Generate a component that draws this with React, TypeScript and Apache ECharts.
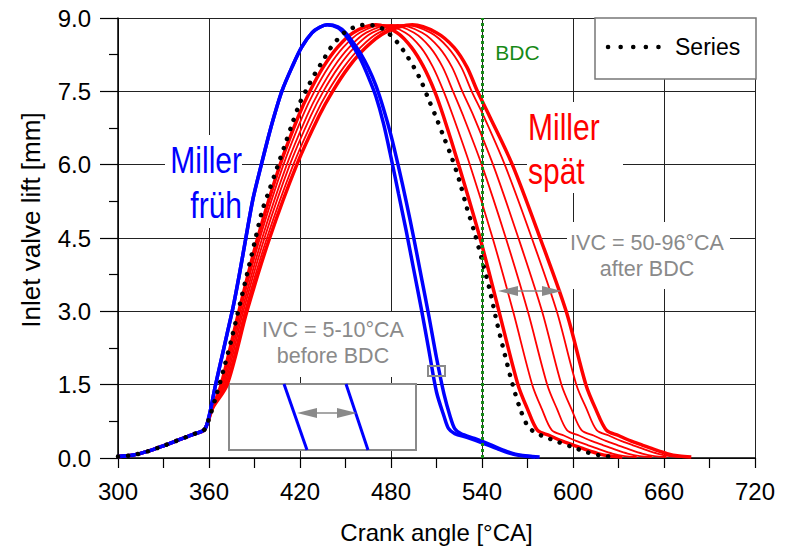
import React, { useEffect, useRef } from "react";
import * as echarts from "echarts";

// ---------- data ----------
const xMin = 300;
const xMax = 720;
const xStep = 60;
const yMin = 0;
const yMax = 9;
const yStep = 1.5;
const bdcAngle = 540;

// common opening ramp of all cam profiles
const openingRamp: [number, number][] = [
  [300, 0.03], [310, 0.06], [320, 0.14], [330, 0.25], [340, 0.37], [350, 0.49], [357, 0.58],
];

// Miller früh (early IVC), two profiles
const blueRise: [number, number][] = [
  [360, 0.85], [364, 1.45], [368, 2.0], [372, 2.55], [376, 3.1], [380, 3.75], [384.3, 4.5],
  [389, 5.3], [394.5, 6.0], [399, 6.55], [403, 7.0], [408, 7.5], [414.8, 8.0], [421, 8.4],
  [428, 8.7], [433, 8.81], [438, 8.86],
];
const blueEarlyA: [number, number][] = [
  ...openingRamp, ...blueRise,
  [445, 8.8], [450, 8.65], [455, 8.42], [460, 8.15], [465, 7.8], [470, 7.4], [475, 6.85],
  [480, 6.15], [485, 5.4], [490, 4.65], [495, 3.85], [500, 3.05], [505, 2.2], [510, 1.35],
  [515, 0.85], [518, 0.6], [522, 0.5], [530, 0.42], [540, 0.31], [550, 0.19], [558, 0.1],
  [565, 0.05], [575, 0.02],
];
const blueEarlyB: [number, number][] = [
  ...openingRamp, ...blueRise,
  [445, 8.82], [450, 8.7], [455, 8.5], [460, 8.27], [465, 7.98], [470, 7.62], [475, 7.15],
  [480, 6.6], [485, 5.95], [490, 5.25], [495, 4.5], [500, 3.7], [505, 2.9], [510, 2.05],
  [515, 1.3], [519, 0.85], [522, 0.6], [526, 0.5], [535, 0.4], [545, 0.28], [555, 0.15],
  [562, 0.08], [570, 0.04], [578, 0.02],
];

// Series (standard) profile, dotted
const seriesProfile: [number, number][] = [
  ...openingRamp,
  [360, 0.8], [365, 1.3], [370, 1.85], [375, 2.45], [380, 3.1], [385, 3.75], [390, 4.4],
  [395, 5.05], [400, 5.5], [405, 5.95], [410, 6.4], [415, 6.85], [420, 7.27], [425, 7.58],
  [430, 7.87], [435, 8.12], [440, 8.38], [445, 8.57], [450, 8.72], [455, 8.8], [460, 8.85],
  [465, 8.86], [470, 8.84], [475, 8.77], [480, 8.64], [485, 8.47], [490, 8.25], [495, 8.0],
  [500, 7.7], [505, 7.32], [510, 6.95], [515, 6.55], [520, 6.15], [525, 5.68], [530, 5.12],
  [535, 4.62], [540, 4.05], [545, 3.45], [550, 2.75], [555, 2.12], [560, 1.52], [565, 1.02],
  [570, 0.66], [575, 0.52], [580, 0.45], [590, 0.33], [600, 0.22], [610, 0.11], [620, 0.04],
  [627, 0.03],
];

// Miller spät (late IVC), six profiles
const redLate0: [number, number][] = [
  ...openingRamp,
  [362, 1.0], [368, 1.5], [379.7, 3.0], [392.1, 4.5], [406.9, 6.0], [419.1, 7.0], [426.5, 7.5],
  [435.4, 8.0], [444.7, 8.4], [455.1, 8.7], [470, 8.86], [484, 8.7], [493.5, 8.4], [501.5, 8.0],
  [508.8, 7.5], [514.5, 7.0], [524.6, 6.0], [538.7, 4.5], [551.2, 3.0], [563.7, 1.5],
  [570, 1.0], [576.5, 0.57], [584.5, 0.46], [592.5, 0.35], [600.5, 0.26], [608.5, 0.17],
  [616.5, 0.09], [624.5, 0.04], [632.5, 0.02],
];
const redLate1: [number, number][] = [
  ...openingRamp,
  [362, 1.0], [368.8, 1.5], [380.6, 3.0], [393.6, 4.5], [409.1, 6.0], [421.8, 7.0], [429.5, 7.5],
  [438.8, 8.0], [448.5, 8.4], [459.4, 8.7], [475, 8.86], [489.5, 8.7], [499.7, 8.4],
  [507.6, 8.0], [514.7, 7.5], [520.8, 7.0], [532, 6.0], [547, 4.5], [560.5, 3.0],
  [573.1, 1.5], [579.5, 1.0], [586, 0.57], [594, 0.46], [602, 0.35], [610, 0.26],
  [618, 0.17], [626, 0.09], [634, 0.04], [642, 0.02],
];
const redLate2: [number, number][] = [
  ...openingRamp,
  [362, 1.0], [369.6, 1.5], [381.6, 3.0], [395.1, 4.5], [411.3, 6.0], [424.6, 7.0], [432.6, 7.5],
  [442.3, 8.0], [452.4, 8.4], [463.7, 8.7], [480, 8.86], [495.2, 8.7], [505.8, 8.4],
  [514, 8.0], [520.9, 7.5], [527.6, 7.0], [539.8, 6.0], [555.7, 4.5], [570.2, 3.0],
  [583, 1.5], [589.5, 1.0], [596, 0.57], [604, 0.46], [612, 0.35], [620, 0.26],
  [628, 0.17], [636, 0.09], [644, 0.04], [652, 0.02],
];
const redLate3: [number, number][] = [
  ...openingRamp,
  [362, 1.0], [370.4, 1.5], [382.6, 3.0], [396.6, 4.5], [413.3, 6.0], [427.1, 7.0], [435.4, 7.5],
  [445.5, 8.0], [455.9, 8.4], [467.7, 8.7], [484.5, 8.86], [500.6, 8.7], [511.6, 8.4],
  [520.1, 8.0], [527, 7.5], [534.4, 7.0], [547.3, 6.0], [564, 4.5], [579.6, 3.0],
  [592.4, 1.5], [599, 1.0], [605.6, 0.57], [613.6, 0.46], [621.6, 0.35], [629.6, 0.26],
  [637.6, 0.17], [645.6, 0.09], [653.6, 0.04], [661.6, 0.02],
];
const redLate4: [number, number][] = [
  ...openingRamp,
  [362, 1.0], [371.2, 1.5], [383.7, 3.0], [398.2, 4.5], [415.6, 6.0], [429.9, 7.0], [438.5, 7.5],
  [449, 8.0], [459.9, 8.4], [472, 8.7], [489.5, 8.86], [506, 8.7], [517.4, 8.4],
  [526.2, 8.0], [533.2, 7.5], [541, 7.0], [555, 6.0], [572.8, 4.5], [589.3, 3.0],
  [602.2, 1.5], [609, 1.0], [615.6, 0.57], [623.6, 0.46], [631.6, 0.35], [639.6, 0.26],
  [647.6, 0.17], [655.6, 0.09], [663.6, 0.04], [671.6, 0.02],
];
const redLate5: [number, number][] = [
  ...openingRamp,
  [362, 1.0], [372, 1.5], [385, 3.0], [400, 4.5], [417.9, 6.0], [432.6, 7.0], [441.5, 7.5],
  [452.2, 8.0], [463.5, 8.4], [476, 8.7], [494, 8.86], [510, 8.7], [521.5, 8.4], [530, 8.0],
  [537, 7.5], [544.8, 7.0], [560, 6.0], [578.3, 4.5], [595.5, 3.0], [608.5, 1.5],
  [615, 1.0], [622, 0.57], [630, 0.46], [638, 0.35], [646, 0.26], [654, 0.17], [662, 0.09],
  [670, 0.04], [678, 0.02],
];

const legendLabel = "Series";

// ---------- styling ----------
const FONT = "'Liberation Sans', Arial, Helvetica, sans-serif";
const BLUE = "#0000ff";
const RED = "#ff0000";
const GREEN = "#168a16";
const GRAY = "#8a8a8a";

function curve(name: string, data: [number, number][], color: string, width: number, z = 2) {
  return {
    type: "line",
    name,
    data,
    symbol: "none",
    showSymbol: false,
    smooth: 0.3,
    silent: true,
    z,
    itemStyle: { color },
    lineStyle: { color, width },
  };
}

function arrow(x1: number, x2: number, y: number, head: number) {
  return [
    { type: "line", z: 4, shape: { x1: x1 + head - 2, y1: y, x2: x2 - head + 2, y2: y }, style: { stroke: GRAY, lineWidth: 1.5 } },
    { type: "polygon", z: 4, shape: { points: [[x1, y], [x1 + head, y - 5], [x1 + head, y + 5]] }, style: { fill: GRAY } },
    { type: "polygon", z: 4, shape: { points: [[x2, y], [x2 - head, y - 5], [x2 - head, y + 5]] }, style: { fill: GRAY } },
  ];
}

function label(x: number, y: number, text: string, color: string, size: number, align: string, lh: number, scaleY = 1) {
  return {
    type: "text",
    z: 3,
    x,
    y,
    scaleY,
    style: {
      text,
      fill: color,
      fontSize: size,
      fontFamily: FONT,
      align,
      textAlign: align,
      verticalAlign: "middle",
      textVerticalAlign: "middle",
      lineHeight: lh,
    },
  };
}

function whiteBox(x: number, y: number, w: number, h: number) {
  return { type: "rect", z: 1, shape: { x, y, width: w, height: h }, style: { fill: "#fff" } };
}

const axisCommon = {
  axisLine: { show: true, onZero: false, lineStyle: { color: "#000", width: 1.5 } },
  splitLine: { show: true, lineStyle: { color: "#222", width: 1 } },
};

const option: any = {
  animation: false,
  backgroundColor: "#fff",
  textStyle: { fontFamily: FONT },
  grid: { left: 118, right: 34, top: 18, bottom: 93, containLabel: false },
  xAxis: {
    type: "value",
    min: xMin,
    max: xMax,
    interval: xStep,
    name: "Crank angle [°CA]",
    nameLocation: "middle",
    nameGap: 62,
    nameTextStyle: { fontSize: 24, color: "#000", fontFamily: FONT },
    ...axisCommon,
    axisTick: { show: true, length: 10, lineStyle: { color: "#000", width: 1.2 } },
    minorTick: { show: true, splitNumber: 2, length: 10, lineStyle: { color: "#000", width: 1.2 } },
    axisLabel: { fontSize: 24, color: "#000", margin: 21, fontFamily: FONT },
  },
  yAxis: {
    type: "value",
    min: yMin,
    max: yMax,
    interval: yStep,
    name: "Inlet valve lift [mm]",
    nameLocation: "middle",
    nameGap: 74,
    nameRotate: 90,
    nameTextStyle: { fontSize: 26, color: "#000", fontFamily: FONT, padding: [0, 0, 0, 36] },
    ...axisCommon,
    axisTick: { show: true, length: 18, lineStyle: { color: "#000", width: 1.2 } },
    minorTick: { show: true, splitNumber: 2, length: 9, lineStyle: { color: "#000", width: 1.2 } },
    axisLabel: { fontSize: 24, color: "#000", margin: 27, fontFamily: FONT, formatter: (v: number) => v.toFixed(1) },
  },
  series: [
    curve("Miller spät 1", redLate0, RED, 3.5),
    curve("Miller spät 2", redLate1, RED, 1.8),
    curve("Miller spät 3", redLate2, RED, 1.8),
    curve("Miller spät 4", redLate3, RED, 1.8),
    curve("Miller spät 5", redLate4, RED, 1.8),
    curve("Miller spät 6", redLate5, RED, 3.5),
    curve("Miller früh 1", blueEarlyA, BLUE, 3.5),
    curve("Miller früh 2", blueEarlyB, BLUE, 3.5),
    {
      ...curve(legendLabel, seriesProfile, "#000", 4.5, 3),
      lineStyle: { color: "#000", width: 4.5, type: [0.1, 10], cap: "round" },
      markLine: {
        silent: true,
        symbol: ["none", "none"],
        label: { show: false },
        lineStyle: { color: GREEN, width: 3, type: [3, 3] },
        data: [{ xAxis: bdcAngle }],
      },
    },
  ],
  graphic: [
    whiteBox(165, 135, 77, 93),
    whiteBox(527, 102, 96, 91),
    whiteBox(257, 312, 158, 65),
    whiteBox(567, 222, 163, 67),
    label(242, 182, "Miller\nfrüh", BLUE, 30, "right", 36, 1.25),
    label(528, 149, "Miller\nspät", RED, 30, "left", 35, 1.25),
    label(517.5, 52, "BDC", GREEN, 21, "center", 24),
    label(333, 343, "IVC = 5-10°CA\nbefore BDC", GRAY, 21.5, "center", 26),
    label(647, 256, "IVC = 50-96°CA\nafter BDC", GRAY, 21.5, "center", 26),
    // inset box
    { type: "rect", z: 1, shape: { x: 229, y: 384, width: 187, height: 66 }, style: { fill: "#fff", stroke: GRAY, lineWidth: 2 } },
    { type: "line", z: 3, shape: { x1: 284, y1: 384, x2: 307, y2: 450 }, style: { stroke: BLUE, lineWidth: 3 } },
    { type: "line", z: 3, shape: { x1: 346, y1: 384, x2: 368, y2: 450 }, style: { stroke: BLUE, lineWidth: 3 } },
    ...arrow(297, 357, 413, 20),
    ...arrow(498, 562, 291, 20),
    // zoom marker on the early curves
    { type: "rect", z: 4, shape: { x: 428, y: 366, width: 17, height: 10 }, style: { fill: "none", stroke: GRAY, lineWidth: 2 } },
    // legend box
    { type: "rect", z: 5, shape: { x: 595, y: 18, width: 161, height: 61 }, style: { fill: "#fff", stroke: "#777", lineWidth: 1.5 } },
    { type: "line", z: 6, shape: { x1: 608, y1: 47, x2: 660, y2: 47 }, style: { stroke: "#000", lineWidth: 4.5, lineDash: [0.1, 12.5], lineCap: "round" } },
    { type: "text", z: 6, x: 675, y: 47, style: { text: legendLabel, fill: "#000", fontSize: 23, fontFamily: FONT, align: "left", textAlign: "left", verticalAlign: "middle", textVerticalAlign: "middle" } },
  ],
};

export default function App() {
  const ref = useRef<HTMLDivElement>(null);
  useEffect(() => {
    document.body.style.margin = "0";
    const chart = echarts.init(ref.current!, undefined, { renderer: "svg" });
    chart.setOption(option);
    return () => chart.dispose();
  }, []);
  return <div ref={ref} style={{ width: 789, height: 551 }} />;
}
